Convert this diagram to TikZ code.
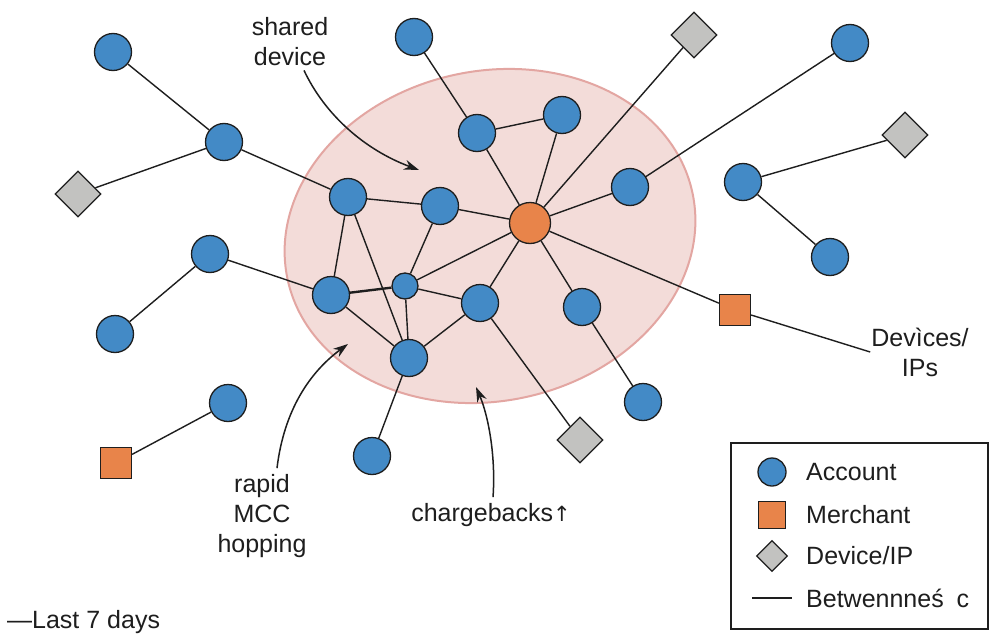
\documentclass[tikz,border=0pt]{standalone}
\usepackage{fontspec}
\setmainfont{Liberation Sans}
\newfontfamily\symfont{DejaVu Sans}
\usetikzlibrary{shapes.geometric,arrows.meta}
\definecolor{acc}{HTML}{438AC6}
\definecolor{mer}{HTML}{E8844A}
\definecolor{dev}{HTML}{C2C2C0}
\definecolor{blobfill}{HTML}{F3DCD9}
\definecolor{blobline}{HTML}{E3A6A2}
\definecolor{ink}{HTML}{1E1E1E}
\begin{document}
\begin{tikzpicture}[x=1pt,y=-1pt,
 acct/.style={circle,draw=ink,line width=1.3pt,fill=acc,minimum size=37pt,inner sep=0pt},
 smallacct/.style={acct,minimum size=26pt},
 hub/.style={circle,draw=ink,line width=1.3pt,fill=mer,minimum size=41pt,inner sep=0pt},
 merch/.style={rectangle,draw=ink,line width=1.3pt,fill=mer,minimum size=31pt,inner sep=0pt},
 devc/.style={diamond,draw=ink,line width=1.3pt,fill=dev,minimum size=46pt,inner sep=0pt},
 edge/.style={draw=ink,line width=1.4pt},
 lbl/.style={font=\fontsize{25}{30}\selectfont,text=ink,align=center,inner sep=2pt},
 note/.style={draw=ink,line width=1.5pt,-{Stealth[length=15pt,width=10pt]}},
]
\useasboundingbox (0,0) rectangle (990,634);
\fill[white] (0,0) rectangle (990,634);

% cluster blob
\filldraw[fill=blobfill,draw=blobline,line width=2pt,rotate around={12:(490,236)}]
  (490,236) ellipse [x radius=207, y radius=165];

% nodes
\node[acct] (a1) at (113,52) {};
\node[acct] (a2) at (224,142) {};
\node[devc] (d1) at (78,194) {};
\node[acct] (a3) at (348,197) {};
\node[acct] (a4) at (440,206) {};
\node[acct] (a5) at (414,37) {};
\node[acct] (a6) at (477,133) {};
\node[acct] (a7) at (562,115) {};
\node[hub] (m0) at (530,223) {};
\node[devc] (d2) at (694,35) {};
\node[acct] (a8) at (630,187) {};
\node[acct] (a9) at (850,43) {};
\node[devc] (d3) at (905,135) {};
\node[acct] (a10) at (743,182) {};
\node[acct] (a11) at (830,257) {};
\node[acct] (a12) at (210,254) {};
\node[acct] (a13) at (115,334) {};
\node[acct] (a14) at (331,295) {};
\node[smallacct] (a15) at (405,286) {};
\node[acct] (a16) at (480,303) {};
\node[acct] (a17) at (409,358) {};
\node[acct] (a18) at (582,307) {};
\node[acct] (a19) at (643,402) {};
\node[merch] (m1) at (735,310) {};
\node[acct] (a20) at (228,403) {};
\node[merch] (m2) at (116,463) {};
\node[acct] (a21) at (372,456) {};
\node[devc] (d4) at (580,440) {};

% labels
\node[lbl] (shared) at (290,42) {shared\\device};
\node[lbl,inner sep=1pt] (devips) at (920,352) {Devìces/\\IPs};
\node[lbl] (rapid) at (262,516) {rapid\\MCC\\hopping};
\node[lbl] (charge) at (491,515) {chargebacks{\symfont\fontsize{21}{24}\selectfont ↑}};
\node[lbl,anchor=west,inner sep=0pt] (last) at (7,622) {—Last 7 days};

% edges
\draw[edge] (a1) -- (a2);
\draw[edge] (a2) -- (d1);
\draw[edge] (a2) -- (a3);
\draw[edge] (a3) -- (a4);
\draw[edge] (a4) -- (m0);
\draw[edge] (a5) -- (a6);
\draw[edge] (a6) -- (a7);
\draw[edge] (a6) -- (m0);
\draw[edge] (a7) -- (m0);
\draw[edge] (d2) -- (m0);
\draw[edge] (a8) -- (m0);
\draw[edge] (a8) -- (a9);
\draw[edge] (a3) -- (a14);
\draw[edge] (a3) -- (a17);
\draw[edge] (a4) -- (a15);
\draw[edge] (a15) -- (m0);
\draw[edge,line width=2.4pt] (a14) -- (a15);
\draw[edge] (a15) -- (a16);
\draw[edge] (a15) -- (a17);
\draw[edge] (a14) -- (a17);
\draw[edge] (a16) -- (a17);
\draw[edge] (a16) -- (m0);
\draw[edge] (a12) -- (a14);
\draw[edge] (a12) -- (a13);
\draw[edge] (m0) -- (a18);
\draw[edge] (m0) -- (m1);
\draw[edge] (m1) -- (devips.west);
\draw[edge] (a18) -- (a19);
\draw[edge] (a16) -- (d4);
\draw[edge] (a17) -- (a21);
\draw[edge] (a20) -- (m2);
\draw[edge] (a10) -- (d3);
\draw[edge] (a10) -- (a11);

% annotation arrows
\coordinate (sharedtip) at (419,170);
\coordinate (rapidtip) at (348,344);
\coordinate (chargetip) at (476,387);
\draw[note] (shared.south) ++(14,2) .. controls (325,115) and (365,150) .. (sharedtip);
\draw[note] (rapid.north) ++(15,-4) .. controls (284,410) and (310,372) .. (rapidtip);
\draw[note] (charge.north) ++(2,-4) .. controls (496,455) and (488,415) .. (chargetip);

% legend
\draw[draw=ink,line width=1.2pt] (731,443) rectangle (988,629);
\node[acct,minimum size=28pt] (lga) at (772,472) {};
\node[merch,minimum size=27pt] (lgm) at (772,515) {};
\node[devc,minimum size=31pt] (lgd) at (772,556) {};
\coordinate (lgl1) at (752,598);
\coordinate (lgl2) at (792,598);
\draw[edge,line width=1.2pt] (lgl1) -- (lgl2);
\node[lbl,anchor=west,inner sep=0pt] at (806,472) {Account};
\node[lbl,anchor=west,inner sep=0pt] at (806,515) {Merchant};
\node[lbl,anchor=west,inner sep=0pt] at (806,556) {Device/IP};
\node[lbl,anchor=west,inner sep=0pt] at (806,598) {Betwennneś\hspace{6pt} c};
\end{tikzpicture}
\end{document}
